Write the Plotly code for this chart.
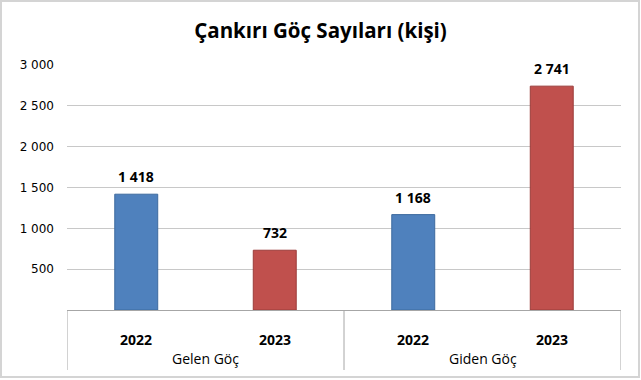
import plotly.graph_objects as go

groups = ["Gelen Göç", "Gelen Göç", "Giden Göç", "Giden Göç"]
years = ["2022", "2023", "2022", "2023"]
values = [1418, 732, 1168, 2741]
year_colors = {"2022": "#4f81bd", "2023": "#c0504d"}
year_lines = {"2022": "#3d6a9e", "2023": "#9b3c3a"}
y_ticks = [500, 1000, 1500, 2000, 2500, 3000]
title = "Çankırı Göç Sayıları (kişi)"

keys = [f"{g} {y}" for g, y in zip(groups, years)]
fmt = lambda v: f"{v:,}".replace(",", " ")

fig = go.Figure()
fig.add_trace(go.Bar(
    x=keys, y=values,
    marker=dict(color=[year_colors[y] for y in years],
                line=dict(color=[year_lines[y] for y in years], width=1)),
    width=0.31, showlegend=False, hoverinfo="skip",
))

annotations = []
# value labels
for k, v in zip(keys, values):
    annotations.append(dict(x=k, y=v, xref="x", yref="y", text=f"<b>{fmt(v)}</b>",
                            showarrow=False, yanchor="bottom", yshift=6,
                            font=dict(family="Open Sans", size=14, color="#000000")))
# year tick labels
for k, y in zip(keys, years):
    annotations.append(dict(x=k, y=-29/245, xref="x", yref="paper", text=f"<b>{y}</b>",
                            showarrow=False, yanchor="middle",
                            font=dict(family="Open Sans", size=14, color="#000000")))
# group labels and dividers
shapes = []
unique_groups = list(dict.fromkeys(groups))
bounds = [-0.5]
for g in unique_groups:
    idx = [i for i, gg in enumerate(groups) if gg == g]
    annotations.append(dict(x=sum(idx) / len(idx), y=-48/245, xref="x", yref="paper", text=g,
                            showarrow=False, yanchor="middle",
                            font=dict(family="Open Sans", size=14, color="#000000")))
    bounds.append(idx[-1] + 0.5)
for b in bounds:
    shapes.append(dict(type="line", xref="x", yref="paper", x0=b, x1=b, y0=0, y1=-60/245,
                       line=dict(color="#a6a6a6", width=1)))
shapes.append(dict(type="rect", xref="paper", yref="paper",
                   x0=-66/554, x1=1 + 18/554, y0=-67/245, y1=1 + 64/245,
                   line=dict(color="#d4d4d4", width=2), fillcolor="rgba(0,0,0,0)", layer="below"))

fig.update_layout(
    width=641, height=380,
    margin=dict(l=67, r=20, t=65, b=70),
    paper_bgcolor="white", plot_bgcolor="white",
    separators=", ",
    title=dict(text=f"<b>{title}</b>", x=0.5, xanchor="center", y=0.92, yanchor="middle",
               font=dict(family="Open Sans", size=20.5, color="#000000")),
    bargap=0.69,
    annotations=annotations,
    shapes=shapes,
)
fig.update_yaxes(range=[0, 3000], tickvals=y_ticks, tickformat=",d", showgrid=True,
                 gridcolor="#c8c8c8", gridwidth=1, automargin=False,
                 zeroline=False, showline=False, ticks="", ticklabelstandoff=12,
                 tickfont=dict(family="DejaVu Sans", size=12, color="#000000"))
fig.update_xaxes(type="category", range=[-0.5, 3.5], showline=True, linecolor="#a6a6a6", linewidth=1,
                 showticklabels=False, ticks="", automargin=False, showgrid=False)

fig.write_html("out.html", config={"displayModeBar": False},
               post_script="document.body.style.margin='0';")
